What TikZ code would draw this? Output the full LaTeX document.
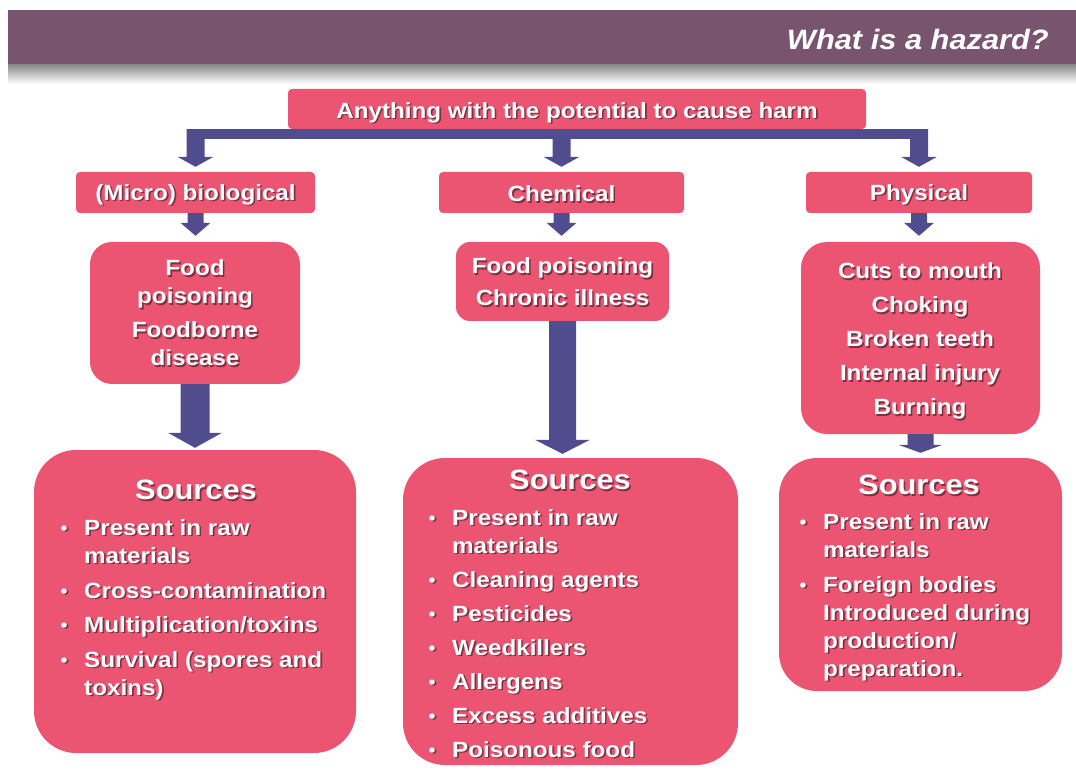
\documentclass[tikz,border=0pt]{standalone}
\usepackage{fontspec}
\setmainfont{Liberation Sans}[FakeStretch=1.1]
\usetikzlibrary{calc}
\definecolor{pinkbox}{RGB}{236,85,113}
\definecolor{arrowblue}{RGB}{80,76,142}
\definecolor{bandcol}{RGB}{121,84,110}
\definecolor{shcol}{RGB}{50,25,35}
\newcommand\bl{\makebox[24.5pt][l]{\hspace{1pt}\raisebox{1pt}{\fontsize{18}{28}\selectfont\textbullet}}}
\newcommand\shtext[4][]{%
  \node[txt,#1,text=shcol,text opacity=0.6] (#3s) at ($(#2)+(1.6,1.6)$) {#4};
  \node[txt,#1] (#3) at (#2) {#4};}
\newcommand\barr[5]{\fill[arr] ($(#1)+(-#3,0)$) -- ($(#2)+(-#3,-#5)$) -- ($(#2)+(-#4,-#5)$) -- (#2) -- ($(#2)+(#4,-#5)$) -- ($(#2)+(#3,-#5)$) -- ($(#1)+(#3,0)$) -- cycle;}
\begin{document}
\begin{tikzpicture}[x=1pt,y=-1pt,
  box/.style={fill=pinkbox, draw=none, inner sep=0pt, rounded corners=#1},
  box/.default=4pt,
  arr/.style={fill=arrowblue},
  txt/.style={text=white, inner sep=0pt, align=center, font=\bfseries\fontsize{22}{28}\selectfont},
  big/.style={font=\bfseries\fontsize{28}{32}\selectfont}]
\path[use as bounding box] (0,0) rectangle (1076,775);
% header band
\fill[bandcol] (8,10) rectangle (1076,65);
\shade[top color=black!45, bottom color=white] (8,65) rectangle (1076,84);
\node[font=\bfseries\itshape\fontsize{28}{32}\selectfont, text=white, anchor=east, inner sep=0pt] (title) at (1049,40) {What is a hazard?};
% boxes
\node[box, minimum width=578pt, minimum height=40pt] (top) at (577,109) {};
\node[box, minimum width=239pt, minimum height=41pt] (bio) at (195.5,192.5) {};
\node[box, minimum width=245pt, minimum height=41pt] (chem) at (561.5,192.5) {};
\node[box, minimum width=226pt, minimum height=41pt] (phys) at (919,192.5) {};
\node[box=22pt, minimum width=210pt, minimum height=142pt] (l3bio) at (195,313) {};
\node[box=14pt, minimum width=213pt, minimum height=79pt] (l3chem) at (562.5,281.5) {};
\node[box=26pt, minimum width=239pt, minimum height=192pt] (l3phys) at (920.5,338) {};
\node[box=42pt, minimum width=322pt, minimum height=303pt] (srcbio) at (195,601.5) {};
\node[box=42pt, minimum width=335pt, minimum height=307pt] (srcchem) at (570.5,611.5) {};
\node[box=38pt, minimum width=283pt, minimum height=233pt] (srcphys) at (920.5,574.5) {};
% top connector
\fill[arr] ([xshift=-9pt]top.south -| bio.north) rectangle ([xshift=9pt,yshift=-10pt]top.south -| phys.north);
\coordinate (b1) at (top.south -| bio.north);
\coordinate (b2) at (top.south -| chem.north);
\coordinate (b3) at (top.south -| phys.north);
\coordinate (b1t) at ($(bio.north)+(0,-5)$);
\coordinate (b2t) at ($(chem.north)+(0,-5)$);
\coordinate (b3t) at ($(phys.north)+(0,-5)$);
\barr{b1}{b1t}{9}{18}{10}
\barr{b2}{b2t}{9}{18}{10}
\barr{b3}{b3t}{9}{18}{10}
% small arrows
\coordinate (c1t) at ($(bio.south |- l3bio.north)+(0,-6)$);
\coordinate (c2t) at ($(chem.south |- l3chem.north)+(0,-6)$);
\coordinate (c3t) at ($(phys.south |- l3phys.north)+(0,-6)$);
\barr{bio.south}{c1t}{8}{15}{13}
\barr{chem.south}{c2t}{8}{15}{13}
\barr{phys.south}{c3t}{8}{15}{13}
% big arrows
\coordinate (d1t) at ($(l3bio.south |- srcbio.north)+(0,-2)$);
\coordinate (d2t) at ($(l3chem.south |- srcchem.north)+(0,-4)$);
\coordinate (d3t) at ($(l3phys.south |- srcphys.north)+(0,-5)$);
\barr{l3bio.south}{d1t}{14.5}{27}{15}
\barr{l3chem.south}{d2t}{13.5}{27.5}{14}
\barr{l3phys.south}{d3t}{13}{22}{8}
% texts
\shtext{577,112.5}{ttop}{Anything with the potential to cause harm}
\shtext{195.5,194.5}{tbio}{(Micro) biological}
\shtext{561.5,194}{tchem}{Chemical}
\shtext{919,194.5}{tphys}{Physical}
\shtext{195,313}{tl3bio}{Food\\poisoning\\[6pt]Foodborne\\disease}
\shtext{562.5,282}{tl3chem}{Food poisoning\\[4pt]Chronic illness}
\shtext{920,341}{tl3phys}{Cuts to mouth\\[6pt]Choking\\[6pt]Broken teeth\\[6pt]Internal injury\\[6pt]Burning}
\shtext[big]{196,490}{sbio}{Sources}
\shtext[big]{570,480}{schem}{Sources}
\shtext[big]{919,485}{sphys}{Sources}
\shtext[anchor=base west]{59.5,535}{lbio}{\begin{tabular}[t]{@{}l@{}l@{}}
\bl & Present in raw\\
 & materials\\[7pt]
\bl & Cross-contamination\\[6pt]
\bl & Multiplication/toxins\\[7pt]
\bl & Survival (spores and\\
 & toxins)
\end{tabular}}
\shtext[anchor=base west]{427.5,525}{lchem}{\begin{tabular}[t]{@{}l@{}l@{}}
\bl & Present in raw\\
 & materials\\[6pt]
\bl & Cleaning agents\\[6pt]
\bl & Pesticides\\[6pt]
\bl & Weedkillers\\[6pt]
\bl & Allergens\\[6pt]
\bl & Excess additives\\[6pt]
\bl & Poisonous food
\end{tabular}}
\shtext[anchor=base west]{798.5,529}{lphys}{\begin{tabular}[t]{@{}l@{}l@{}}
\bl & Present in raw\\
 & materials\\[7pt]
\bl & Foreign bodies\\
 & Introduced during\\
 & production/\\
 & preparation.
\end{tabular}}
\end{tikzpicture}
\end{document}
